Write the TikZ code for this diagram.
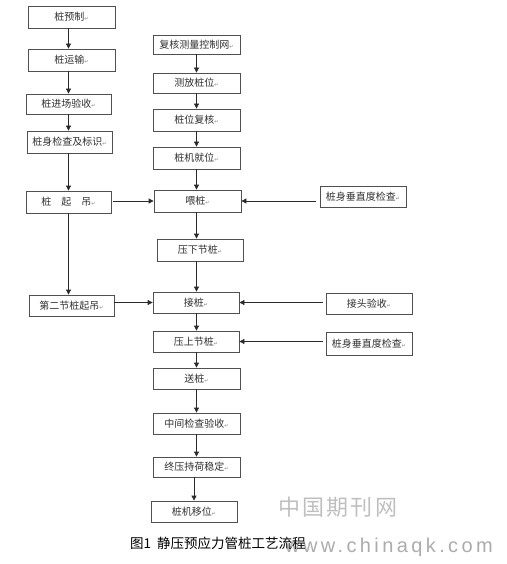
\documentclass[tikz,border=0pt]{standalone}
\usepackage{fontspec}
\setmainfont{Noto Sans CJK SC}
\newfontfamily\djvfont{DejaVu Sans}
\newfontfamily\libfont[LetterSpace=17]{Liberation Sans}
\newfontfamily\wmfont[LetterSpace=10]{Noto Sans CJK SC}
\usetikzlibrary{arrows.meta}
\definecolor{ln}{HTML}{2A2A2A}
\definecolor{bx}{HTML}{505050}
\definecolor{tx}{HTML}{303030}
\newcommand{\parmark}{{\djvfont\fontsize{5}{5}\selectfont\textcolor{gray}{↵}}}
\tikzset{
 box/.style={draw=bx, line width=0.8pt, minimum width=87pt, minimum height=22pt, inner sep=0pt, font=\fontsize{10}{12}\selectfont, text=tx},
 arr/.style={draw=ln, line width=0.8pt, -{Triangle[length=5pt,width=5pt]}},
}
\begin{document}
\begin{tikzpicture}[x=1pt,y=-1pt]
\fill[white] (0,0) rectangle (506,564);
\useasboundingbox (0,0) rectangle (506,564);
% left column
\node[box] (prefab) at (71.5,17) {桩预制\parmark};
\node[box] (trans) at (71.5,60) {桩运输\parmark};
\node[box, minimum width=85pt, minimum height=20pt] (accept) at (68.5,104) {桩进场验收\parmark};
\node[box, minimum width=85pt] (check) at (69.5,142) {桩身检查及标识\parmark};
\node[box, minimum width=85pt] (lift) at (68.5,202) {桩\quad 起\quad 吊\parmark};
\node[box, minimum width=85pt, minimum height=21pt] (lift2) at (71.5,305.5) {第二节桩起吊\parmark};
% right column
\node[box, minimum height=19pt] (survey) at (196.5,44.5) {复核测量控制网\parmark};
\node[box, minimum height=20pt] (layout) at (196.5,83) {测放桩位\parmark};
\node[box] (recheck) at (196.5,120) {桩位复核\parmark};
\node[box] (position) at (196.5,158) {桩机就位\parmark};
\node[box] (feed) at (197.5,201) {喂桩\parmark};
\node[box, minimum width=86pt] (press1) at (200,250) {压下节桩\parmark};
\node[box, minimum width=86pt, minimum height=21pt] (join) at (196,302.5) {接桩\parmark};
\node[box, minimum width=86pt, minimum height=21pt] (press2) at (196,341.5) {压上节桩\parmark};
\node[box, minimum height=21pt] (send) at (196.5,378.5) {送桩\parmark};
\node[box, minimum height=21pt] (mid) at (196.5,423.5) {中间检查验收\parmark};
\node[box, minimum height=20pt] (final) at (196.5,467) {终压持荷稳定\parmark};
\node[box, minimum width=86pt, minimum height=21pt] (move) at (194,511.5) {桩机移位\parmark};
% side checks
\node[box, minimum width=86pt, minimum height=21pt] (vert1) at (363,196.5) {桩身垂直度检查\parmark};
\node[box, minimum width=86pt, minimum height=21pt] (joint) at (369,303.5) {接头验收\parmark};
\node[box, minimum width=86pt, minimum height=23pt] (vert2) at (369,343.5) {桩身垂直度检查\parmark};
% left arrows
\foreach \a/\b in {prefab/trans, trans/accept, accept/check, check/lift, lift/lift2}
  \draw[arr] (\a.south -| lift.south) -- (\b.north -| lift.south);
% right arrows
\foreach \a/\b in {survey/layout, layout/recheck, recheck/position, position/feed, feed/press1, press1/join, join/press2, press2/send, send/mid, mid/final}
  \draw[arr] (\a.south -| survey.south) -- (\b.north -| survey.south);
\draw[arr] (final.south -| move.south) -- (move.north);
% horizontal arrows
\draw[arr] ([xshift=2pt]lift.east |- feed.west) -- (feed.west);
\draw[arr] (lift2.east |- join.west) -- (join.west);
\draw[arr] ([xshift=-4pt]vert1.west |- feed.east) -- (feed.east);
\draw[arr] ([xshift=-3pt]joint.west |- join.east) -- (join.east);
\draw[arr] ([xshift=-3pt]vert2.west |- press2.east) -- (press2.east);
% watermark
\node[anchor=west, text=gray!50, font=\wmfont\fontsize{22}{22}\selectfont, inner sep=0pt] (wm1) at (278,507) {中国期刊网};
\node[anchor=west, text=gray!65, font=\libfont\fontsize{20}{20}\selectfont, inner sep=0pt] (wm2) at (285,547) {www.chinaqk.com};
% caption
\node[anchor=west, text=black, font=\fontsize{13.5}{14}\selectfont, inner sep=0pt] (cap) at (130,543) {图1\hspace{6pt}静压预应力管桩工艺流程};
\end{tikzpicture}
\end{document}
